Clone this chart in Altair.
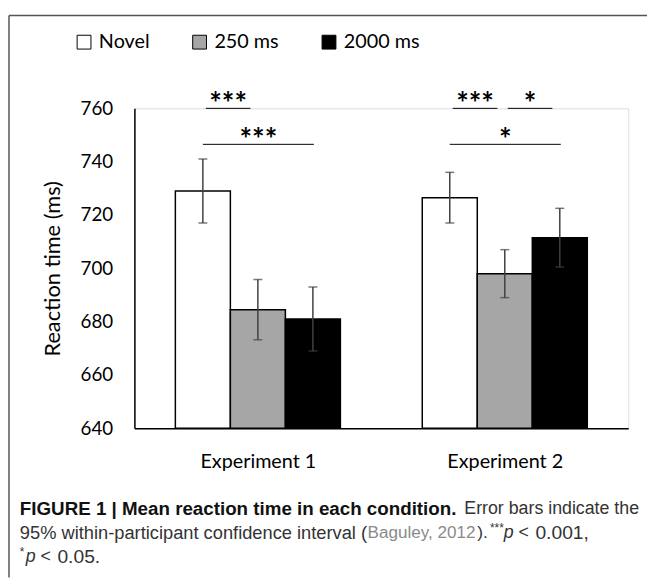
import altair as alt
import pandas as pd

# ---- data ----
groups = ["Experiment 1", "Experiment 2"]
conditions = ["Novel", "250 ms", "2000 ms"]
means = [[729.0, 684.5, 681.0], [726.5, 698.0, 711.5]]
ci_half = [[12.0, 11.3, 12.0], [9.5, 9.0, 11.0]]
colors = ["#ffffff", "#a6a6a6", "#000000"]

# significance brackets: group, condition a, condition b, level, label
sig_group = [0, 0, 1, 1, 1]
sig_a = [0, 0, 0, 1, 0]
sig_b = [1, 2, 1, 2, 2]
sig_level = [0, 1, 0, 0, 1]
sig_label = ["***", "***", "***", "*", "*"]
bracket_y = [760.0, 746.5]

y_ticks = [640, 660, 680, 700, 720, 740, 760]

BAR_W = 0.2228  # bar width in x-units (group step = 1)

rows = []
for gi, g in enumerate(groups):
    for ci, c in enumerate(conditions):
        ctr = gi + 0.5 + (ci - 1) * BAR_W
        m = means[gi][ci]
        e = ci_half[gi][ci]
        rows.append(dict(group=g, cond=c, center=ctr, x_lo=ctr - BAR_W / 2,
                         x_hi=ctr + BAR_W / 2, mean=m, lo=m - e, hi=m + e))
df = pd.DataFrame(rows)

srows = []
for g, a, b, lv, lab in zip(sig_group, sig_a, sig_b, sig_level, sig_label):
    ca = g + 0.5 + (a - 1) * BAR_W
    cb = g + 0.5 + (b - 1) * BAR_W
    if lv == 0:
        x1, x2 = ca + 0.012, cb - 0.03
    else:
        x1, x2 = ca, cb + 0.004
    srows.append(dict(x1=x1, x2=x2, xm=(x1 + x2) / 2, y=bracket_y[lv], label=lab))
sdf = pd.DataFrame(srows)

one = pd.DataFrame({"k": [0]})

FONT = "Lato"
xscale = alt.Scale(domain=[0, 2], nice=False, zero=False)
yscale = alt.Scale(domain=[640, 760], nice=False, zero=False)

label_expr = "[" + ",".join(f"'{g}'" for g in groups) + "][floor(datum.value)]"

base = alt.Chart(df)

bars = base.mark_bar(stroke="black", strokeWidth=1.5).encode(
    x=alt.X("x_lo:Q", scale=xscale,
            axis=alt.Axis(values=[0.5, 1.5], labelExpr=label_expr, ticks=False,
                          grid=False, domainColor="black", domainWidth=1.5,
                          labelFont=FONT, labelFontSize=20, labelColor="black",
                          labelPadding=24, title=None)),
    x2="x_hi:Q",
    y=alt.Y("mean:Q", scale=yscale,
            axis=alt.Axis(values=y_ticks, ticks=False, grid=False,
                          domainColor="black", domainWidth=1.5,
                          labelFont=FONT, labelFontSize=19, labelColor="black",
                          labelPadding=22, title="Reaction time (ms)",
                          titleFont=FONT, titleFontSize=22, titleFontWeight="normal",
                          titleColor="black", titlePadding=16)),
    y2=alt.datum(640),
    fill=alt.Fill("cond:N", scale=alt.Scale(domain=conditions, range=colors),
                  legend=alt.Legend(orient="none", legendX=-61, legendY=-77,
                                    direction="horizontal", title=None,
                                    symbolType="square", symbolSize=196,
                                    symbolStrokeColor="black", symbolStrokeWidth=1,
                                    labelFont=FONT, labelFontSize=20, labelColor="black",
                                    labelOffset=5, columnPadding=40, padding=0)),
)

err = base.mark_rule(color="#404040", strokeWidth=1.5).encode(
    x=alt.X("center:Q", scale=xscale), y=alt.Y("lo:Q", scale=yscale), y2="hi:Q")
cap_lo = base.mark_tick(orient="horizontal", size=9, thickness=1.5, color="#404040").encode(
    x=alt.X("center:Q", scale=xscale), y=alt.Y("lo:Q", scale=yscale))
cap_hi = base.mark_tick(orient="horizontal", size=9, thickness=1.5, color="#404040").encode(
    x=alt.X("center:Q", scale=xscale), y=alt.Y("hi:Q", scale=yscale))

sig = alt.Chart(sdf)
sig_lines = sig.mark_rule(color="black", strokeWidth=1).encode(
    x=alt.X("x1:Q", scale=xscale), x2="x2:Q", y=alt.Y("y:Q", scale=yscale))
sig_text = sig.mark_text(font=FONT, fontSize=30, fontWeight="bold", baseline="alphabetic",
                         dy=6, color="black").encode(
    x=alt.X("xm:Q", scale=xscale), y=alt.Y("y:Q", scale=yscale), text="label:N")

# frame around the figure panel
frame_top = alt.Chart(one).mark_rule(color="#555555", strokeWidth=1.5).encode(
    x=alt.value(-127), x2=alt.value(519), y=alt.value(-94))
frame_left = alt.Chart(one).mark_rule(color="#555555", strokeWidth=1.5).encode(
    x=alt.value(-127), y=alt.value(-94), y2=alt.value(475))

# caption segments (x, y in plot-area pixels)
cap_rows = [
    dict(t="FIGURE 1 | Mean reaction time in each condition.", x=-116, y=406, w="bold", s="normal", c="#111111", f=19),
    dict(t="Error bars indicate the", x=334, y=406, w="normal", s="normal", c="#333333", f=18),
    dict(t="95% within-participant confidence interval (", x=-116, y=430, w="normal", s="normal", c="#333333", f=18.5),
    dict(t="Baguley, 2012", x=236, y=430, w="normal", s="normal", c="#8a8a8a", f=17.3),
    dict(t=").", x=347, y=430, w="normal", s="normal", c="#333333", f=17.5),
    dict(t="***", x=360, y=425, w="normal", s="normal", c="#333333", f=12),
    dict(t="p", x=374, y=430, w="normal", s="italic", c="#333333", f=18),
    dict(t="<", x=389, y=430, w="normal", s="normal", c="#333333", f=18),
    dict(t="0.001,", x=406, y=430, w="normal", s="normal", c="#333333", f=19.5),
    dict(t="*", x=-116, y=449, w="normal", s="normal", c="#333333", f=12),
    dict(t="p", x=-110, y=454, w="normal", s="italic", c="#333333", f=18),
    dict(t="<", x=-95, y=454, w="normal", s="normal", c="#333333", f=18),
    dict(t="0.05.", x=-78, y=454, w="normal", s="normal", c="#333333", f=19.5),
]
caption_layers = []
for r in cap_rows:
    caption_layers.append(
        alt.Chart(one).mark_text(text=r["t"], font="Liberation Sans", fontSize=r["f"],
                                 fontWeight=r["w"], fontStyle=r["s"], color=r["c"],
                                 align="left", baseline="middle").encode(
            x=alt.value(r["x"]), y=alt.value(r["y"]))
    )

chart = alt.layer(bars, err, cap_lo, cap_hi, sig_lines, sig_text, frame_top, frame_left,
                  *caption_layers).properties(
    width=500, height=324,
    autosize=alt.AutoSizeParams(type="none"),
    padding={"left": 128, "top": 98, "right": 19, "bottom": 151},
).configure_view(stroke=None).configure(background="white")

chart.save("out.html", embed_options={"renderer": "svg", "actions": False})
